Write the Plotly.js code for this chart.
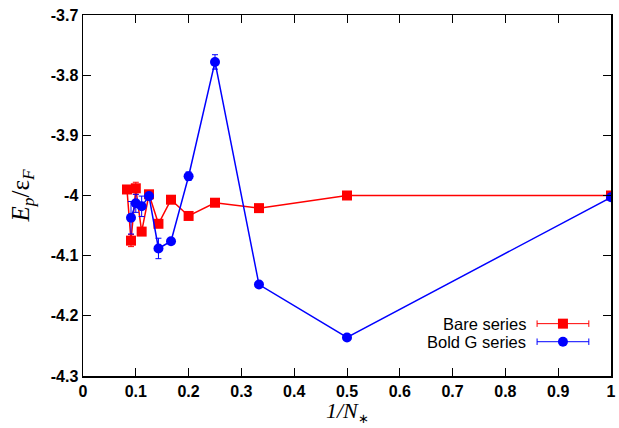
<!DOCTYPE html>
<html>
<head>
<meta charset="utf-8">
<script src="https://cdn.plot.ly/plotly-3.0.1.min.js"></script>
<style>html,body{margin:0;padding:0;background:#fff;}#chart{width:619px;height:428px;}</style>
</head>
<body>
<div id="chart"></div>
<script>
// data
var bareX = [0.0833, 0.0909, 0.1, 0.1111, 0.125, 0.1429, 0.1667, 0.2, 0.25, 0.3333, 0.5, 1.0];
var bareY = [-3.990, -4.075, -3.988, -4.060, -3.998, -4.047, -4.007, -4.034, -4.012, -4.021, -4.000, -4.000];
var bareErr = [0.004, 0.010, 0.010, 0.006, 0.006, 0.004, 0.003, 0.003, 0.002, 0.002, 0.001, 0.001];
var boldX = [0.0909, 0.1, 0.1111, 0.125, 0.1429, 0.1667, 0.2, 0.25, 0.3333, 0.5, 1.0];
var boldY = [-4.037, -4.013, -4.018, -4.001, -4.088, -4.076, -3.968, -3.778, -4.148, -4.236, -4.003];
var boldErr = [0.027, 0.015, 0.017, 0.006, 0.017, 0.004, 0.007, 0.012, 0.003, 0.003, 0.002];
var seriesNames = ['Bare series', 'Bold G series'];
var xTicks = [0, 0.1, 0.2, 0.3, 0.4, 0.5, 0.6, 0.7, 0.8, 0.9, 1];
var xTickText = ['0', '0.1', '0.2', '0.3', '0.4', '0.5', '0.6', '0.7', '0.8', '0.9', '1'];
var yTicks = [-4.3, -4.2, -4.1, -4.0, -3.9, -3.8, -3.7];
var yTickText = ['-4.3', '-4.2', '-4.1', '-4', '-3.9', '-3.8', '-3.7'];
var xTitle = '<i>1/N</i><sub><span style="font-size:13px">∗</span></sub>';
var yTitle = '<i>E</i><sub><i>p</i></sub>/ε<sub><i>F</i></sub>';

var RED = '#ff0000', BLUE = '#0000ff';
var traces = [
  {x: bareX, y: bareY, type: 'scatter', mode: 'lines+markers', name: seriesNames[0],
   line: {color: RED, width: 1.5}, marker: {symbol: 'square', size: 10, color: RED},
   error_y: {type: 'data', array: bareErr, visible: true, color: RED, thickness: 1, width: 3}},
  {x: boldX, y: boldY, type: 'scatter', mode: 'lines+markers', name: seriesNames[1],
   line: {color: BLUE, width: 1.5}, marker: {symbol: 'circle', size: 10, color: BLUE},
   error_y: {type: 'data', array: boldErr, visible: true, color: BLUE, thickness: 1, width: 3}}
];

var tickFont = {family: 'Liberation Sans, Arial, sans-serif', size: 16, color: '#000', weight: 'bold'};
var axisCommon = {
  showgrid: false, zeroline: false, showline: true, linecolor: '#000', linewidth: 1.5,
  mirror: 'allticks', ticks: 'inside', ticklen: 8, tickwidth: 1, tickcolor: '#000',
  tickfont: tickFont
};

// custom legend (text to the left of the sample, gnuplot style)
var legY = [0.145, 0.095];
var legColors = [RED, BLUE];
var shapes = [], annotations = [];
for (var i = 0; i < 2; i++) {
  annotations.push({xref: 'paper', yref: 'paper', x: 0.843, y: legY[i], xanchor: 'right', yanchor: 'middle',
    text: seriesNames[i], showarrow: false, font: {family: 'Liberation Sans, Arial, sans-serif', size: 16.5, color: '#000'}});
  shapes.push({type: 'line', xref: 'paper', yref: 'paper', x0: 0.860, x1: 0.958, y0: legY[i], y1: legY[i],
    line: {color: legColors[i], width: 1}});
  [0.860, 0.958].forEach(function (xc) {
    shapes.push({type: 'line', xref: 'paper', yref: 'paper', x0: xc, x1: xc, y0: legY[i] - 0.009, y1: legY[i] + 0.009,
      line: {color: legColors[i], width: 1}});
  });
  if (i === 0) {
    shapes.push({type: 'rect', xref: 'paper', yref: 'paper', xsizemode: 'pixel', ysizemode: 'pixel',
      xanchor: 0.909, yanchor: legY[i], x0: -5, x1: 5, y0: -5, y1: 5, fillcolor: RED, line: {width: 0}});
  } else {
    shapes.push({type: 'circle', xref: 'paper', yref: 'paper', xsizemode: 'pixel', ysizemode: 'pixel',
      xanchor: 0.909, yanchor: legY[i], x0: -5, x1: 5, y0: -5, y1: 5, fillcolor: BLUE, line: {width: 0}});
  }
}
// x-axis title as annotation just under the tick labels
annotations.push({xref: 'paper', yref: 'paper', x: 0.5, y: -0.144, xanchor: 'center', yanchor: 'bottom',
  text: xTitle, showarrow: false, font: {family: 'Liberation Serif, Times New Roman, serif', size: 22, color: '#000'}});

var layout = {
  width: 619, height: 428,
  margin: {l: 83, r: 8, t: 15, b: 52},
  paper_bgcolor: '#fff', plot_bgcolor: '#fff',
  showlegend: false,
  xaxis: Object.assign({}, axisCommon, {range: [0, 1], tickvals: xTicks, ticktext: xTickText}),
  yaxis: Object.assign({}, axisCommon, {range: [-4.3, -3.7], tickvals: yTicks, ticktext: yTickText,
    title: {text: yTitle, font: {family: 'Liberation Serif, Times New Roman, serif', size: 25, color: '#000'}, standoff: 14}}),
  shapes: shapes,
  annotations: annotations
};

Plotly.newPlot('chart', traces, layout, {displayModeBar: false, staticPlot: true});
</script>
</body>
</html>
